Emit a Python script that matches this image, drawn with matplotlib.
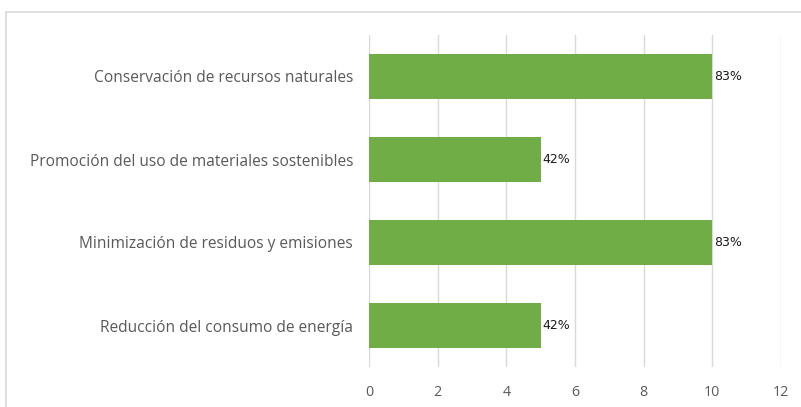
import matplotlib.pyplot as plt
from matplotlib.patches import Rectangle

# data (bottom to top as drawn)
categories = ["Reducción del consumo de energía",
              "Minimización de residuos y emisiones",
              "Promoción del uso de materiales sostenibles",
              "Conservación de recursos naturales"]
values = [5, 10, 5, 10]
labels = ["42%", "83%", "42%", "83%"]
xticks = [0, 2, 4, 6, 8, 10, 12]

plt.rcParams["font.family"] = ["Open Sans", "DejaVu Sans"]

fig = plt.figure(figsize=(8.01, 4.07), dpi=100)
fig.patch.set_facecolor("white")

# outer chart frame (cut by the image edges on right/bottom)
fig.patches.append(Rectangle((6 / 801, -0.1), 1.2, 1 - 12 / 407 + 0.1,
                             transform=fig.transFigure, fill=False,
                             edgecolor="#d9d9d9", linewidth=1.2))

ax = fig.add_axes([369 / 801, 1 - 367 / 407, 412 / 801, 332 / 407])
ypos = range(len(categories))
ax.barh(ypos, values, height=0.55, color="#70ad47", zorder=3)
for y, v, lab in zip(ypos, values, labels):
    ax.text(v + 0.05, y, lab, va="center", ha="left", fontsize=9,
            color="#1a1a1a", family=["DejaVu Sans"])

ax.set_xlim(0, 12)
ax.set_ylim(-0.5, len(categories) - 0.5)
ax.set_xticks(xticks)
ax.set_yticks(list(ypos))
ax.set_yticklabels(categories)
ax.grid(axis="x", color="#d9d9d9", linewidth=1, zorder=0)
for s in ax.spines.values():
    s.set_visible(False)
ax.tick_params(axis="both", length=0, colors="#595959")
ax.tick_params(axis="x", pad=13, labelsize=10.3)
ax.tick_params(axis="y", pad=11.5, labelsize=11.2)

fig.savefig("out.png", dpi=100)
